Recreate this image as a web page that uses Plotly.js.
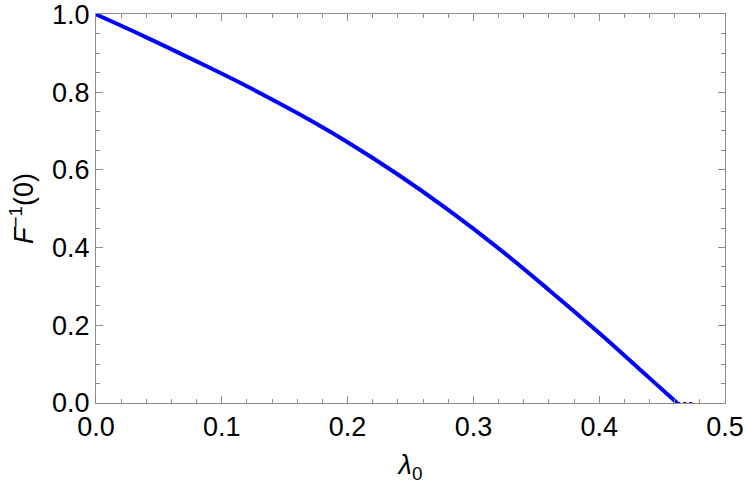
<!DOCTYPE html>
<html>
<head>
<meta charset="utf-8">
<script src="https://cdn.plot.ly/plotly-3.0.1.min.js"></script>
<style>
  html, body { margin: 0; padding: 0; background: #fff; }
  #plot { width: 747px; height: 484px; }
</style>
</head>
<body>
<div id="plot"></div>
<script>
// values
var lambda0 = [0, 0.04, 0.08, 0.12, 0.16, 0.2, 0.24, 0.28, 0.32, 0.36, 0.40, 0.44, 0.462];
var finv0 = [1.0, 0.941, 0.879, 0.815, 0.746, 0.671, 0.588, 0.497, 0.398, 0.291, 0.180, 0.064, 0.0];

// small dotted tail that sits on the zero line
var tailX = [0.462, 0.476];
var tailY = [0, 0];

var xTicks = [0, 0.1, 0.2, 0.3, 0.4, 0.5];
var xTickText = ['0.0', '0.1', '0.2', '0.3', '0.4', '0.5'];
var yTicks = [0, 0.2, 0.4, 0.6, 0.8, 1.0];
var yTickText = ['0.0', '0.2', '0.4', '0.6', '0.8', '1.0'];

var frameColor = '#8c8c8c';
var font = {family: 'Liberation Sans, Arial, sans-serif', size: 27, color: '#000'};

var curve = {
    x: lambda0,
    y: finv0,
    mode: 'lines',
    type: 'scatter',
    line: {color: '#0000ff', width: 4, shape: 'spline', smoothing: 1},
    hoverinfo: 'skip'
};
var tail = {
    x: tailX,
    y: tailY,
    mode: 'lines',
    type: 'scatter',
    line: {color: '#0000ff', width: 2, dash: 'dot'},
    hoverinfo: 'skip'
};

var axisCommon = {
    showgrid: false,
    zeroline: false,
    showline: true,
    linecolor: frameColor,
    linewidth: 1,
    mirror: 'allticks',
    ticks: 'inside',
    ticklen: 7,
    tickwidth: 1,
    tickcolor: frameColor,
    tickfont: font,
    tickmode: 'array',
    ticklabeloverflow: 'allow'
};

var layout = {
    width: 747,
    height: 484,
    margin: {l: 96, r: 22, t: 14, b: 81},
    paper_bgcolor: '#fff',
    plot_bgcolor: '#fff',
    showlegend: false,
    font: font,
    xaxis: Object.assign({}, axisCommon, {
        range: [0, 0.5],
        tickvals: xTicks,
        ticktext: xTickText,
        minor: {dtick: 0.02, tick0: 0, ticks: 'inside', ticklen: 4, tickcolor: frameColor, showgrid: false},
        title: {text: '<i>λ</i><sub>0</sub>', font: font, standoff: 14}
    }),
    yaxis: Object.assign({}, axisCommon, {
        range: [0, 1.001],
        tickvals: yTicks,
        ticktext: yTickText,
        minor: {dtick: 0.05, tick0: 0, ticks: 'inside', ticklen: 4, tickcolor: frameColor, showgrid: false},
        title: {text: '<i>F</i><sup>−1</sup>(0)', font: font, standoff: 10}
    })
};

Plotly.newPlot('plot', [curve, tail], layout, {displayModeBar: false, staticPlot: true});
</script>
</body>
</html>
